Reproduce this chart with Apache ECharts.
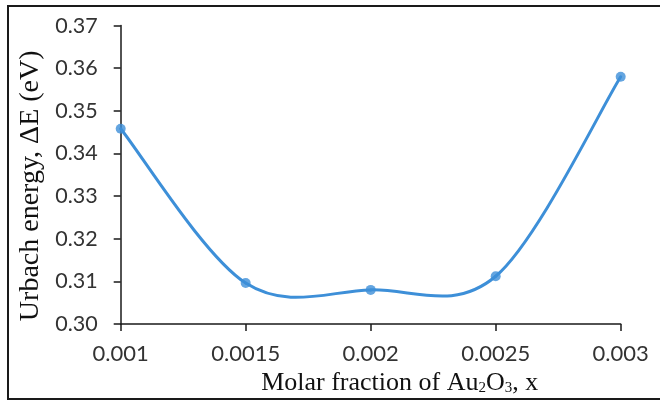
<!DOCTYPE html>
<html>
<head>
<meta charset="utf-8">
<script src="https://cdn.jsdelivr.net/npm/echarts@6/dist/echarts.min.js"></script>
<style>
html,body{margin:0;padding:0;background:#fff;}
#chart{width:660px;height:401px;}
</style>
</head>
<body>
<div id="chart"></div>
<script>
var categories = ['0.001', '0.0015', '0.002', '0.0025', '0.003'];
var urbachEnergy = [0.3458, 0.3096, 0.3080, 0.3112, 0.3580];
var yMin = 0.30, yMax = 0.37, yStep = 0.01;

var lineColor = '#3d8fd8';
var pointData = urbachEnergy.map(function (v, i) { return [i, v]; });

function renderSegment(params, api) {
  var i = params.dataIndex;
  var n = urbachEnergy.length;
  if (i >= n - 1) return null;
  function pt(k) {
    k = Math.max(0, Math.min(n - 1, k));
    return api.coord([k, urbachEnergy[k]]);
  }
  var p0 = pt(i - 1), p1 = pt(i), p2 = pt(i + 1), p3 = pt(i + 2);
  var t1x = (p2[0] - p0[0]) / 6, t1y = (p2[1] - p0[1]) / 6;
  var t2x = (p3[0] - p1[0]) / 6, t2y = (p3[1] - p1[1]) / 6;
  return {
    type: 'bezierCurve',
    shape: {
      x1: p1[0], y1: p1[1],
      cpx1: p1[0] + t1x, cpy1: p1[1] + t1y,
      cpx2: p2[0] - t2x, cpy2: p2[1] - t2y,
      x2: p2[0], y2: p2[1]
    },
    style: {stroke: lineColor, lineWidth: 3, fill: null, lineCap: 'round'}
  };
}

var chart = echarts.init(document.getElementById('chart'), null, {renderer: 'canvas'});
chart.setOption({
  animation: false,
  backgroundColor: '#fff',
  grid: {left: 120.7, right: 39.3, top: 25.6, bottom: 73, containLabel: false},
  graphic: [{
    type: 'rect', silent: true, z: -1,
    shape: {x: 8, y: 6, width: 700, height: 393},
    style: {fill: 'none', stroke: '#1a1a1a', lineWidth: 2}
  }],
  xAxis: {
    type: 'category',
    data: categories,
    boundaryGap: false,
    name: '{t|Molar fraction of Au}{s|2}{t|O}{s|3}{t|, x}',
    nameLocation: 'middle',
    nameGap: 46,
    nameTextStyle: {
      padding: [0, 0, 0, 58],
      rich: {
        t: {fontFamily: 'Liberation Serif', fontSize: 26, color: '#111'},
        s: {fontFamily: 'Liberation Serif', fontSize: 15, color: '#111', verticalAlign: 'bottom', padding: [9, 0, 0, 0]}
      }
    },
    axisLine: {lineStyle: {color: '#1a1a1a', width: 1.5}},
    axisTick: {show: true, alignWithLabel: true, length: 7, lineStyle: {color: '#1a1a1a', width: 1.5}},
    axisLabel: {fontFamily: 'Lato', fontSize: 22, color: '#333', margin: 19},
    splitLine: {show: false}
  },
  yAxis: {
    type: 'value',
    min: yMin, max: yMax, interval: yStep,
    name: 'Urbach energy, ΔE (eV)',
    nameLocation: 'middle',
    nameGap: 75,
    nameTextStyle: {fontFamily: 'Liberation Serif', fontSize: 28, color: '#111', padding: [0, 22, 0, 0]},
    axisLine: {show: true, lineStyle: {color: '#1a1a1a', width: 1.5}},
    axisTick: {show: true, length: 7, lineStyle: {color: '#1a1a1a', width: 1.5}},
    axisLabel: {fontFamily: 'Lato', fontSize: 21.5, color: '#333', margin: 23,
      formatter: function (v) { return v.toFixed(2); }},
    splitLine: {show: false}
  },
  series: [{
    type: 'custom',
    data: pointData,
    renderItem: renderSegment,
    encode: {x: 0, y: 1},
    z: 2,
    silent: true
  }, {
    type: 'scatter',
    data: pointData,
    symbol: 'circle',
    symbolSize: 10,
    itemStyle: {color: lineColor},
    z: 3
  }]
});
</script>
</body>
</html>
